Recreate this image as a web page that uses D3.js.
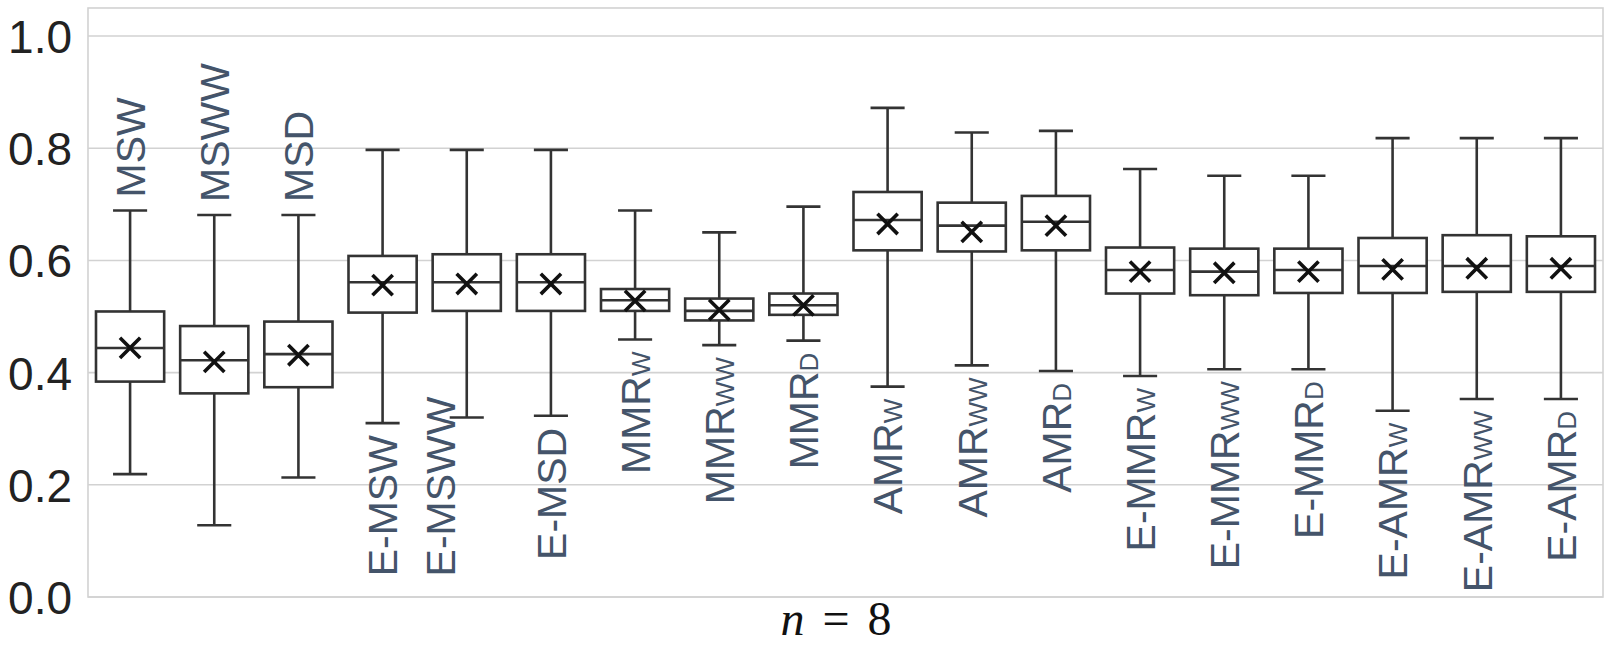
<!DOCTYPE html>
<html>
<head>
  <meta charset="UTF-8">
  <style>
    body { margin: 0; background: white; }
  </style>
</head>
<body>
<div id="chart_div"></div>

<script src="https://d3js.org/d3.v7.min.js"></script>
<script>

let width = 1616, height = 646;

// method names: main part and subscript
const names = ["MSW", "MSWW", "MSD", "E-MSW", "E-MSWW", "E-MSD",
  "MMR", "MMR", "MMR", "AMR", "AMR", "AMR",
  "E-MMR", "E-MMR", "E-MMR", "E-AMR", "E-AMR", "E-AMR"];
const subs = ["", "", "", "", "", "",
  "W", "WW", "D", "W", "WW", "D",
  "W", "WW", "D", "W", "WW", "D"];
// where the name sits: above the upper whisker or below the lower one
const labelSide = ["up", "up", "up", "down", "down", "down",
  "down", "down", "down", "down", "down", "down",
  "down", "down", "down", "down", "down", "down"];

// box statistics
const whiskLow = [0.219, 0.128, 0.213, 0.310, 0.320, 0.323, 0.459, 0.449, 0.457,
  0.375, 0.413, 0.403, 0.394, 0.406, 0.406, 0.332, 0.353, 0.353];
const q1 = [0.384, 0.363, 0.374, 0.507, 0.510, 0.510, 0.510, 0.493, 0.503,
  0.618, 0.616, 0.618, 0.541, 0.538, 0.542, 0.542, 0.544, 0.544];
const median = [0.444, 0.422, 0.433, 0.561, 0.561, 0.561, 0.529, 0.510, 0.520,
  0.672, 0.662, 0.669, 0.583, 0.580, 0.583, 0.590, 0.590, 0.590];
const q3 = [0.509, 0.483, 0.491, 0.608, 0.611, 0.611, 0.549, 0.532, 0.541,
  0.722, 0.703, 0.715, 0.623, 0.621, 0.621, 0.640, 0.645, 0.643];
const whiskHigh = [0.689, 0.681, 0.681, 0.797, 0.797, 0.797, 0.689, 0.650, 0.696,
  0.872, 0.828, 0.831, 0.763, 0.751, 0.751, 0.818, 0.818, 0.818];
const mean = [0.444, 0.419, 0.431, 0.556, 0.558, 0.558, 0.528, 0.512, 0.520,
  0.665, 0.651, 0.662, 0.580, 0.578, 0.580, 0.584, 0.586, 0.586];

const yTicks = [0.0, 0.2, 0.4, 0.6, 0.8, 1.0];

const boxes = names.map((n, i) => ({
  id: i, name: n, sub: subs[i], side: labelSide[i],
  lo: whiskLow[i], q1: q1[i], med: median[i], q3: q3[i], hi: whiskHigh[i], mean: mean[i]
}));

const margin = {left: 88, right: 13, top: 8, bottom: 49};
const plotW = width - margin.left - margin.right;
const plotH = height - margin.top - margin.bottom;

let svg = d3.select("#chart_div")
  .append("svg")
  .attr("width", width)
  .attr("height", height);

let g = svg.append("g")
  .attr("transform", "translate(" + margin.left + "," + margin.top + ")");

var x = d3.scaleBand()
  .domain(boxes.map(d => d.id))
  .range([0, plotW])
  .paddingInner(0.19)
  .paddingOuter(0.095);

var y = d3.scaleLinear()
  .domain([0, 1.05])
  .range([plotH, 0]);

// grid
g.append("g")
  .selectAll("line")
  .data(yTicks)
  .enter()
  .append("line")
  .attr("x1", 0)
  .attr("x2", plotW)
  .attr("y1", d => y(d))
  .attr("y2", d => y(d))
  .attr("stroke", "#d2d2d2")
  .attr("stroke-width", 1.6);

// frame
g.append("rect")
  .attr("width", plotW)
  .attr("height", plotH)
  .attr("fill", "none")
  .attr("stroke", "#d2d2d2")
  .attr("stroke-width", 1.6);

// y axis labels
let yAxis = g.append("g")
  .call(d3.axisLeft(y).tickValues(yTicks).tickFormat(d3.format(".1f")).tickSize(0).tickPadding(16));
yAxis.select(".domain").remove();
yAxis.selectAll("text")
  .attr("font-family", "'Liberation Sans', Arial, sans-serif")
  .attr("font-size", 46)
  .attr("fill", "#222")
  .attr("dy", "0.36em");

// boxes
const lineColor = "#333333";
const lw = 2.6;
let bw = x.bandwidth();

let box = g.append("g")
  .selectAll("g")
  .data(boxes)
  .enter()
  .append("g")
  .attr("transform", d => "translate(" + (x(d.id) + bw / 2) + ",0)");

box.append("line")
  .attr("x1", 0).attr("x2", 0)
  .attr("y1", d => y(d.hi)).attr("y2", d => y(d.q3))
  .attr("stroke", lineColor).attr("stroke-width", lw);
box.append("line")
  .attr("x1", 0).attr("x2", 0)
  .attr("y1", d => y(d.q1)).attr("y2", d => y(d.lo))
  .attr("stroke", lineColor).attr("stroke-width", lw);
box.append("line")
  .attr("x1", -bw / 4).attr("x2", bw / 4)
  .attr("y1", d => y(d.hi)).attr("y2", d => y(d.hi))
  .attr("stroke", lineColor).attr("stroke-width", lw);
box.append("line")
  .attr("x1", -bw / 4).attr("x2", bw / 4)
  .attr("y1", d => y(d.lo)).attr("y2", d => y(d.lo))
  .attr("stroke", lineColor).attr("stroke-width", lw);
box.append("rect")
  .attr("x", -bw / 2)
  .attr("width", bw)
  .attr("y", d => y(d.q3))
  .attr("height", d => y(d.q1) - y(d.q3))
  .attr("fill", "white")
  .attr("stroke", lineColor).attr("stroke-width", lw);
box.append("line")
  .attr("x1", -bw / 2).attr("x2", bw / 2)
  .attr("y1", d => y(d.med)).attr("y2", d => y(d.med))
  .attr("stroke", lineColor).attr("stroke-width", lw);

// mean marker
let cross = d3.symbol().type(d3.symbolX).size(270);
box.append("path")
  .attr("d", cross)
  .attr("transform", d => "translate(0," + y(d.mean) + ")")
  .attr("fill", "none")
  .attr("stroke", "#111")
  .attr("stroke-width", 3.6);

// method names, rotated
const fontSize = 41;
let label = box.append("text")
  .attr("transform", d => {
    let dx = 0.36 * fontSize, ly;
    if (d.side === "up") {
      ly = y(d.hi) - 13;
    } else {
      ly = y(d.lo) + 12;
    }
    // E-MSWW is pushed aside in the original
    if (d.name === "E-MSWW") { dx -= 27; ly -= 33; }
    return "translate(" + dx + "," + ly + ") rotate(-90)";
  })
  .attr("text-anchor", d => d.side === "up" ? "start" : "end")
  .attr("font-family", "'Liberation Sans', Arial, sans-serif")
  .attr("font-size", fontSize)
  .attr("fill", "#44546a");
label.append("tspan").text(d => d.name);
label.append("tspan")
  .attr("font-size", 26)
  .text(d => d.sub);

// x axis title
let title = svg.append("text")
  .attr("x", 836)
  .attr("y", 635)
  .attr("text-anchor", "middle")
  .attr("font-family", "'Liberation Serif', 'DejaVu Serif', serif")
  .attr("font-size", 48)
  .attr("fill", "#111");
title.append("tspan").attr("font-style", "italic").text("n");
title.append("tspan").attr("dx", 18).text("=");
title.append("tspan").attr("dx", 18).text("8");

</script>

</body>
</html>
